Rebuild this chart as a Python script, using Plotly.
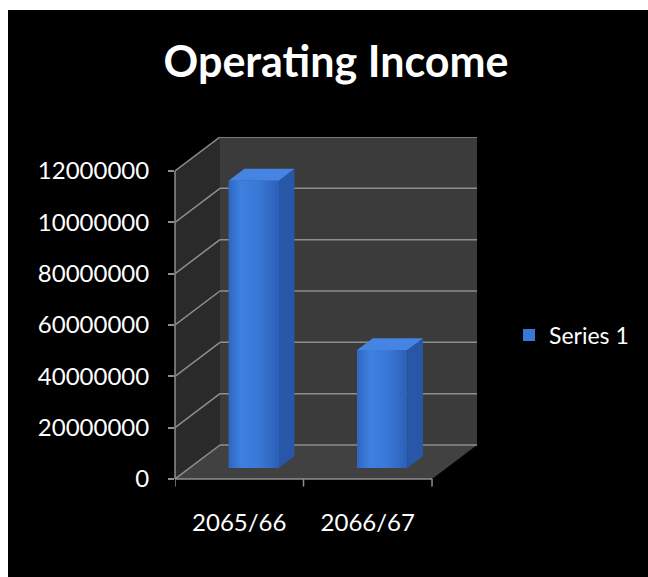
import plotly.graph_objects as go

# Chart data
categories = ["2065/66", "2066/67"]
values = [112000000, 46000000]
series_name = "Series 1"
y_ticks = [0, 20000000, 40000000, 60000000, 80000000, 100000000, 120000000]
y_tick_labels = ["0", "20000000", "40000000", "60000000", "80000000", "10000000", "12000000"]

# Oblique "3D" projection settings (in axis units)
Y_MAX = 120000000
N = len(categories)
DX = 0.35          # depth shift along x
DY = 13.25e6       # depth shift along y
FRONT = 0.32       # where the bar front face sits inside the depth
DEPTH = 0.35       # bar depth as fraction of full depth
BAR_W = 0.39

WALL_BACK = "#3b3b3b"
WALL_SIDE = "#2a2a2a"
FLOOR = "#414141"
GRID = "#8f8f8f"
FACE = "#3a78d6"
SIDE = "#2757a6"
TOP = "#4584e2"
FONT = "Lato"

fig = go.Figure()

shapes = []
# back wall
shapes.append(dict(type="rect", xref="x", yref="y", x0=DX, x1=N + DX, y0=DY, y1=Y_MAX + DY,
                   fillcolor=WALL_BACK, line=dict(width=0), layer="below"))
# left wall
shapes.append(dict(type="path", xref="x", yref="y",
                   path=f"M 0,0 L 0,{Y_MAX} L {DX},{Y_MAX + DY} L {DX},{DY} Z",
                   fillcolor=WALL_SIDE, line=dict(width=0), layer="below"))
# floor
shapes.append(dict(type="path", xref="x", yref="y",
                   path=f"M 0,0 L {N},0 L {N + DX},{DY} L {DX},{DY} Z",
                   fillcolor=FLOOR, line=dict(width=0), layer="below"))
# gridlines on back and left walls
for t in y_ticks:
    shapes.append(dict(type="line", xref="x", yref="y", x0=DX, x1=N + DX, y0=t + DY, y1=t + DY,
                       line=dict(color=GRID, width=1.5), layer="below"))
    shapes.append(dict(type="line", xref="x", yref="y", x0=0, x1=DX, y0=t, y1=t + DY,
                       line=dict(color=GRID, width=1.5), layer="below"))
# front axis lines and category ticks
shapes.append(dict(type="line", xref="paper", yref="y", x0=0, x1=0, y0=0, y1=Y_MAX,
                   line=dict(color=GRID, width=1.5)))
shapes.append(dict(type="line", xref="x", yref="paper", x0=0, x1=N, y0=0, y1=0,
                   line=dict(color=GRID, width=1.5)))
for i in range(N + 1):
    shapes.append(dict(type="line", xref="x", yref="paper", x0=i, x1=i, y0=0, y1=-0.022,
                       line=dict(color=GRID, width=1.5)))

# white page border (left and top)
shapes.append(dict(type="rect", xref="paper", yref="paper", x0=-0.62, x1=-0.553, y0=-0.35, y1=1.45,
                   fillcolor="white", line=dict(width=0), layer="above"))
shapes.append(dict(type="rect", xref="paper", yref="paper", x0=-0.62, x1=1.62, y0=1.3713, y1=1.45,
                   fillcolor="white", line=dict(width=0), layer="above"))

# bar front faces
centers = [i + 0.5 + FRONT * DX for i in range(N)]
base = FRONT * DY
fig.add_trace(go.Bar(
    x=centers, y=values, base=base, width=BAR_W, name=series_name,
    marker=dict(color=FACE, line=dict(width=0)), showlegend=True, hoverinfo="y",
))

# shading, side and top faces of each bar
for c, v in zip(centers, values):
    xl, xr = c - BAR_W / 2, c + BAR_W / 2
    top = base + v
    ddx, ddy = DEPTH * DX, DEPTH * DY
    fig.add_trace(go.Scatter(
        x=[xl, xr, xr, xl, xl], y=[base, base, top, top, base],
        fill="toself", mode="none", showlegend=False, hoverinfo="skip",
        fillgradient=dict(type="horizontal", colorscale=[
            [0.0, "#2d66c2"], [0.25, "#3e80e0"], [0.6, "#3a78d6"], [1.0, "#2c60b8"]])))
    fig.add_trace(go.Scatter(
        x=[xr, xr, xr + ddx, xr + ddx, xr], y=[base, top, top + ddy, base + ddy, base],
        fill="toself", fillcolor=SIDE, mode="none", showlegend=False, hoverinfo="skip"))
    fig.add_trace(go.Scatter(
        x=[xl, xr, xr + ddx, xl + ddx, xl], y=[top, top, top + ddy, top + ddy, top],
        fill="toself", fillcolor=TOP, mode="none", showlegend=False, hoverinfo="skip"))

fig.update_layout(
    width=648, height=577,
    margin=dict(l=175, r=171, t=137, b=98),
    paper_bgcolor="black", plot_bgcolor="black",
    shapes=shapes,
    title=dict(text="<b>Operating Income</b>", x=336 / 648, xanchor="center",
               y=1 - 62 / 577, yanchor="middle",
               font=dict(family=FONT, size=43, color="white")),
    legend=dict(x=1.106, xanchor="left", y=0.421, yanchor="middle",
                font=dict(family=FONT, size=23, color="white"), bgcolor="rgba(0,0,0,0)"),
    xaxis=dict(range=[0, N + DX], tickvals=[i + 0.5 for i in range(N)], ticktext=categories,
               ticks="", showgrid=False, zeroline=False, showline=False,
               tickfont=dict(family=FONT, size=24, color="white"), ticklabelstandoff=27),
    yaxis=dict(range=[0, Y_MAX + DY], tickvals=y_ticks, ticktext=y_tick_labels,
               ticks="outside", ticklen=6, tickcolor=GRID, tickwidth=1.5,
               showgrid=False, zeroline=False, showline=False,
               tickfont=dict(family=FONT, size=24, color="white"), ticklabelstandoff=14),
    bargap=0,
)

fig.write_html("out.html")
